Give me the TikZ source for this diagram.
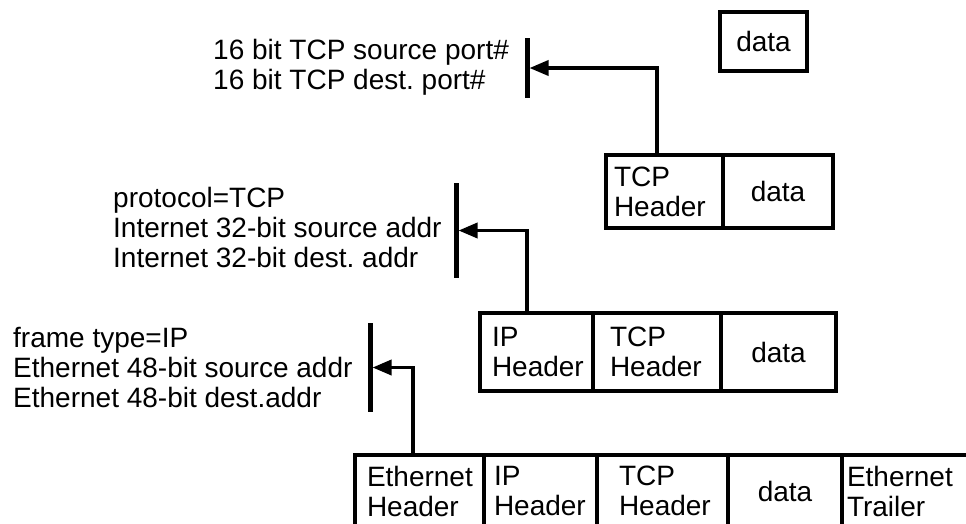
\documentclass[tikz,border=0pt]{standalone}
\usepackage{fontspec}
\setmainfont{Liberation Sans}
\usetikzlibrary{arrows.meta, positioning}
\tikzstyle{cell} = [rectangle, draw=black, line width=3.5pt, outer sep=0pt, inner ysep=0pt, align=left, font=\fontsize{28}{30}\selectfont]
\tikzstyle{datacell} = [cell, align=center]
\tikzstyle{fields} = [anchor=west, inner sep=0pt, align=left, font=\fontsize{28}{30}\selectfont]
\tikzstyle{hdrbar} = [rectangle, fill=black, minimum width=5pt, inner sep=0pt, outer sep=0pt]
\tikzstyle{arrow} = [line width=3.5pt, -{Triangle[length=19pt,width=15pt]}]

\begin{document}
\frenchspacing
\begin{tikzpicture}[x=1pt, y=-1pt]

    \path[use as bounding box, clip] (0,0) rectangle (966,523);

    % application data
    \node (appdata) [datacell, anchor=north west, minimum height=59pt, inner xsep=5pt, text width=77pt] at (720,12) {data};

    % TCP segment
    \node (tcph) [cell, anchor=north west, minimum height=73pt, inner xsep=8pt, text width=101pt] at (606,155) {TCP\\Header};
    \node (tcpd) [datacell, right=0pt of tcph, minimum height=73pt, inner xsep=5pt, text width=100pt] {data};

    \node (tcpbar) [hdrbar, minimum height=60pt] at (527,68) {};
    \node (tcpfields) [fields] at (213,67) {16 bit TCP source port\#\\16 bit TCP dest. port\#};

    % IP datagram
    \node (iph) [cell, anchor=north west, minimum height=78pt, inner xsep=12pt, text width=89pt] at (480,313) {IP\\Header};
    \node (ipt) [cell, right=0pt of iph, minimum height=78pt, inner xsep=17pt, text width=94pt] {TCP\\Header};
    \node (ipd) [datacell, right=0pt of ipt, minimum height=78pt, inner xsep=5pt, text width=105pt] {data};

    \node (ipbar) [hdrbar, minimum height=95pt] at (456,230.5) {};
    \node (ipfields) [fields] at (113,227) {protocol=TCP\\Internet 32-bit source addr\\Internet 32-bit dest. addr};

    % Ethernet frame
    \node (eh) [cell, anchor=north west, minimum height=72pt, inner xsep=12pt, text width=105pt] at (355,455) {Ethernet\\Header};
    \node (ei) [cell, right=0pt of eh, minimum height=72pt, inner xsep=10pt, text width=93pt] {IP\\Header};
    \node (et) [cell, right=0pt of ei, minimum height=72pt, inner xsep=22pt, text width=87pt] {TCP\\Header};
    \node (ed) [datacell, right=0pt of et, minimum height=72pt, inner xsep=5pt, text width=104pt] {data};
    \node (etr) [cell, right=0pt of ed, minimum height=72pt, inner xsep=5pt, text width=150pt] {Ethernet\\Trailer};

    \node (ethbar) [hdrbar, minimum height=89pt] at (370,367.5) {};
    \node (ethfields) [fields] at (13,367) {frame type=IP\\Ethernet 48-bit source addr\\Ethernet 48-bit dest.addr};

    \draw [arrow] ([xshift=-7.5pt]tcph.north) |- (tcpbar.east);
    \draw [arrow] ([xshift=-9.5pt]iph.north) |- (ipbar.east);
    \draw [arrow] ([xshift=-6.5pt]eh.north) |- (ethbar.east);

\end{tikzpicture}
\end{document}
